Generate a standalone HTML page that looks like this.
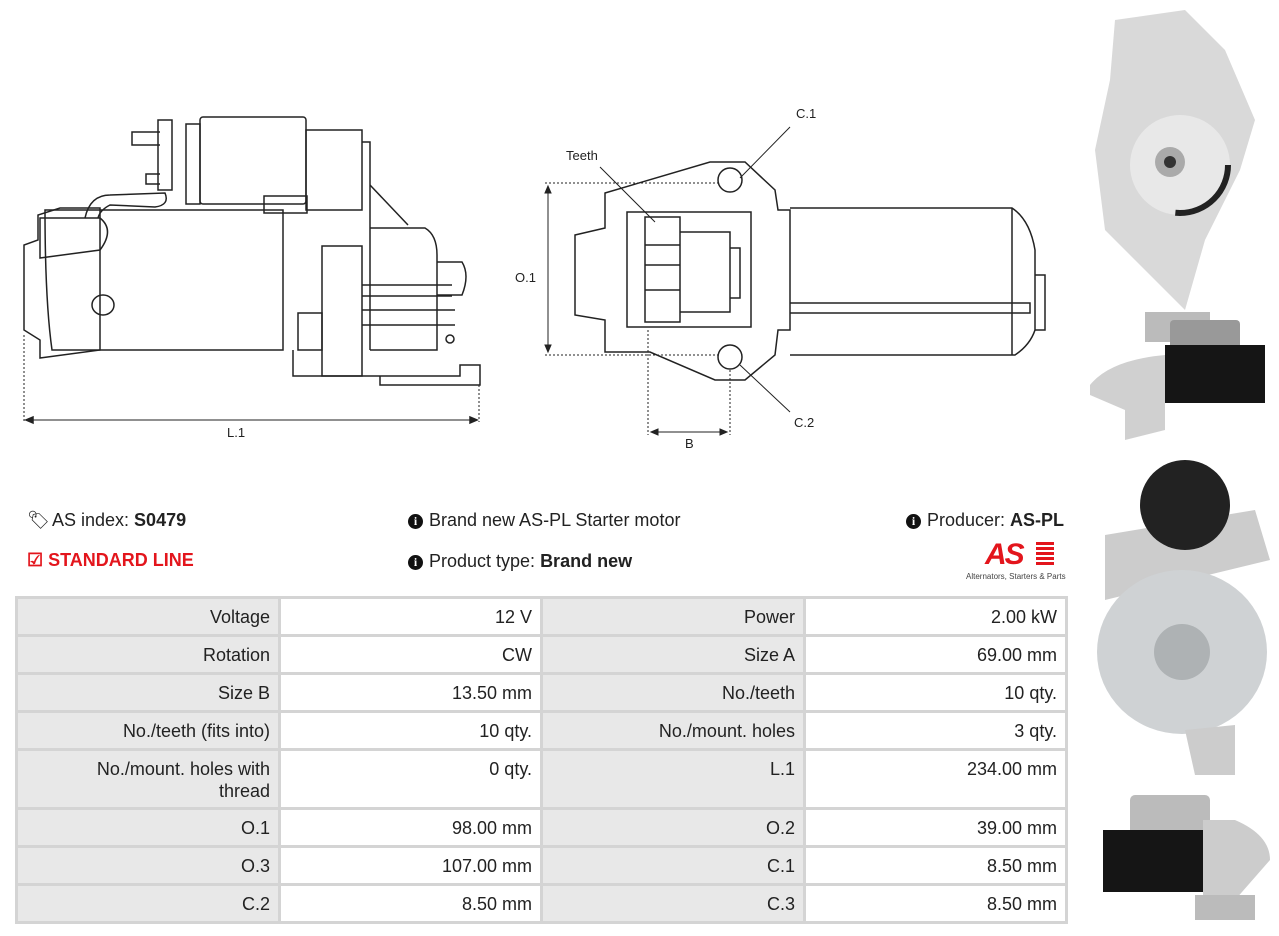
<!DOCTYPE html>
<html><head><meta charset="utf-8"><style>
body{margin:0;width:1279px;height:936px;background:#fff;font-family:"Liberation Sans",sans-serif;color:#222;position:relative;overflow:hidden}
.t{position:absolute;font-size:18px;white-space:nowrap}
table{position:absolute;left:15px;top:596px;border-collapse:collapse;font-size:18px;table-layout:fixed}
td{border:3px solid #d4d4d4;text-align:right;padding:0 8px;vertical-align:top;line-height:22px;padding-top:7px;height:38px;box-sizing:border-box;overflow:hidden}
td.l{background:#e8e8e8;width:263px}
td.v{background:#fff;width:262px}
tr.tall td{height:59px}
.i{display:inline-block;width:15px;height:15px;border-radius:50%;background:#111;color:#fff;font-size:12px;font-weight:bold;text-align:center;line-height:15px;vertical-align:1px;margin-right:6px;font-family:"Liberation Serif",serif}
</style></head><body>
<svg width="1279" height="470" style="position:absolute;left:0;top:0" fill="none" stroke="#222" stroke-width="1.5">
<path d="M45 210 L283 210 L283 350 L52 350 Q45 300 45 210Z"/>
<path d="M24 300 L24 245 L38 240 L38 215 L60 208 L100 208 L100 350 L40 358 L40 340 L24 330Z"/>
<path d="M40 218 L100 218 Q115 230 100 250 L40 258Z"/>
<ellipse cx="103" cy="305" rx="11" ry="10"/>
<path d="M85 218 Q90 195 110 195 L165 193 Q170 205 155 207 L110 205 Q100 210 98 218"/>
<rect x="186" y="124" width="14" height="80"/>
<rect x="200" y="117" width="106" height="87" rx="3"/>
<rect x="306" y="130" width="56" height="80"/>
<rect x="264" y="196" width="43" height="17"/>
<path d="M160 132 L132 132 L132 145 L160 145M160 174 L146 174 L146 184 L160 184M158 120 L172 120 L172 190 L158 190Z"/>
<path d="M362 142 L370 142 L370 350"/>
<path d="M370 185 L408 225"/>
<path d="M370 228 L425 228 Q437 235 437 255 L437 350 L370 350"/>
<path d="M437 262 L462 262 Q470 275 462 295 L437 295"/>
<path d="M322 246 L362 246 L362 376 L322 376Z"/>
<path d="M298 313 L322 313 L322 350 L298 350Z"/>
<path d="M293 350 L293 376 L460 376 L460 365 L480 365 L480 385 L380 385 L380 376"/>
<path d="M362 285 L452 285M362 296 L452 296M362 310 L455 310M362 325 L455 325"/>
<circle cx="450" cy="339" r="4"/>
<g stroke-width="1" stroke-dasharray="2,2"><path d="M24 335 L24 422M479 385 L479 422"/></g>
<path d="M26 420 L477 420" stroke-width="1"/>
<path d="M26 420 L33 417 L33 423Z M477 420 L470 417 L470 423Z" fill="#222"/>
<path d="M605 193 L710 162 L745 162 L775 190 L778 210 L790 210 L790 330 L778 330 L775 355 L745 380 L715 380 L650 352 L605 352 L605 320 L575 315 L575 235 L605 228Z"/>
<rect x="627" y="212" width="124" height="115"/>
<rect x="645" y="217" width="35" height="105"/>
<path d="M680 232 L730 232 L730 312 L680 312M730 248 L740 248 L740 298 L730 298M645 245 L680 245M645 265 L680 265M645 290 L680 290"/>
<circle cx="730" cy="180" r="12"/>
<circle cx="730" cy="357" r="12"/>
<path d="M790 208 L1012 208 Q1030 220 1035 250 L1035 330 Q1030 345 1015 355 L790 355"/>
<path d="M1012 208 L1012 355M1035 275 L1045 275 L1045 330 L1035 330"/>
<path d="M790 303 L1030 303 L1030 313 L790 313"/>
<path d="M740 178 L790 127M740 365 L790 412M600 167 L655 222" stroke-width="1"/>
<g stroke-width="1" stroke-dasharray="2,2"><path d="M545 183 L718 183M545 355 L718 355M648 330 L648 435M730 370 L730 435"/></g>
<path d="M548 186 L548 352M651 432 L727 432" stroke-width="1"/>
<path d="M548 186 L545 193 L551 193Z M548 352 L545 345 L551 345Z M651 432 L658 429 L658 435Z M727 432 L720 429 L720 435Z" fill="#222" stroke-width="1"/>
<g fill="#222" stroke="none" font-size="13" font-family="Liberation Sans"><text x="227" y="437">L.1</text><text x="566" y="160">Teeth</text><text x="796" y="118">C.1</text><text x="794" y="427">C.2</text><text x="515" y="282">O.1</text><text x="685" y="448">B</text></g>
</svg>
<svg width="190" height="936" style="position:absolute;left:1085px;top:0">
<path d="M30 20 L100 10 L140 50 L170 120 L155 170 L120 240 L100 310 L50 260 L20 230 L10 150 L25 80Z" fill="#d9d9d9"/>
<circle cx="95" cy="165" r="50" fill="#e8e8e8"/><circle cx="95" cy="165" r="48" fill="none" stroke="#222" stroke-width="6" stroke-dasharray="80,300"/>
<circle cx="85" cy="162" r="15" fill="#aaa"/><circle cx="85" cy="162" r="6" fill="#333"/>
<rect x="60" y="312" width="65" height="30" fill="#bbb"/><rect x="85" y="320" width="70" height="30" rx="4" fill="#999"/>
<rect x="80" y="345" width="100" height="58" fill="#151515"/><path d="M5 385 Q25 360 80 355 L80 430 L40 440 L40 410 L5 395Z" fill="#d0d0d0"/>
<path d="M20 535 L170 510 L185 560 L20 600Z" fill="#ccc"/>
<circle cx="100" cy="505" r="45" fill="#222"/>
<ellipse cx="97" cy="652" rx="85" ry="82" fill="#cfd2d4"/><circle cx="97" cy="652" r="28" fill="#aeb2b4"/>
<path d="M100 730 L150 725 L150 775 L110 775Z" fill="#ccc"/>
<rect x="45" y="795" width="80" height="40" rx="5" fill="#bbb"/><rect x="18" y="830" width="100" height="62" fill="#151515"/>
<path d="M118 820 L150 820 Q185 835 185 860 L150 900 L118 900Z" fill="#ccc"/><rect x="110" y="895" width="60" height="25" fill="#bbb"/>
</svg>
<div class="t" style="left:27px;top:510px">&#x1F3F7;&#xFE0E;</div>
<div class="t" style="left:52px;top:510px">AS index: <b>S0479</b></div>
<div class="t" style="left:27px;top:550px;color:#e3151c;font-weight:bold">&#9745; STANDARD LINE</div>
<div class="t" style="left:408px;top:510px"><span class="i">i</span>Brand new AS-PL Starter motor</div>
<div class="t" style="left:408px;top:551px"><span class="i">i</span>Product type: <b>Brand new</b></div>
<div class="t" style="left:906px;top:510px"><span class="i">i</span>Producer: <b>AS-PL</b></div>
<div class="t" style="left:985px;top:538px;font-size:30px;font-weight:bold;font-style:italic;color:#e3151c;letter-spacing:-2px">AS</div>
<div style="position:absolute;left:1036px;top:542px;width:18px;height:24px;background:repeating-linear-gradient(#e3151c 0 3px,#fff 3px 5px)"></div>
<div class="t" style="left:966px;top:572px;font-size:8px;color:#444">Alternators, Starters &amp; Parts</div>
<table>
<tr><td class="l">Voltage</td><td class="v">12 V</td><td class="l">Power</td><td class="v">2.00 kW</td></tr>
<tr><td class="l">Rotation</td><td class="v">CW</td><td class="l">Size A</td><td class="v">69.00 mm</td></tr>
<tr><td class="l">Size B</td><td class="v">13.50 mm</td><td class="l">No./teeth</td><td class="v">10 qty.</td></tr>
<tr><td class="l">No./teeth (fits into)</td><td class="v">10 qty.</td><td class="l">No./mount. holes</td><td class="v">3 qty.</td></tr>
<tr class="tall"><td class="l">No./mount. holes with<br>thread</td><td class="v">0 qty.</td><td class="l">L.1</td><td class="v">234.00 mm</td></tr>
<tr><td class="l">O.1</td><td class="v">98.00 mm</td><td class="l">O.2</td><td class="v">39.00 mm</td></tr>
<tr><td class="l">O.3</td><td class="v">107.00 mm</td><td class="l">C.1</td><td class="v">8.50 mm</td></tr>
<tr><td class="l">C.2</td><td class="v">8.50 mm</td><td class="l">C.3</td><td class="v">8.50 mm</td></tr>
</table>
</body></html>
